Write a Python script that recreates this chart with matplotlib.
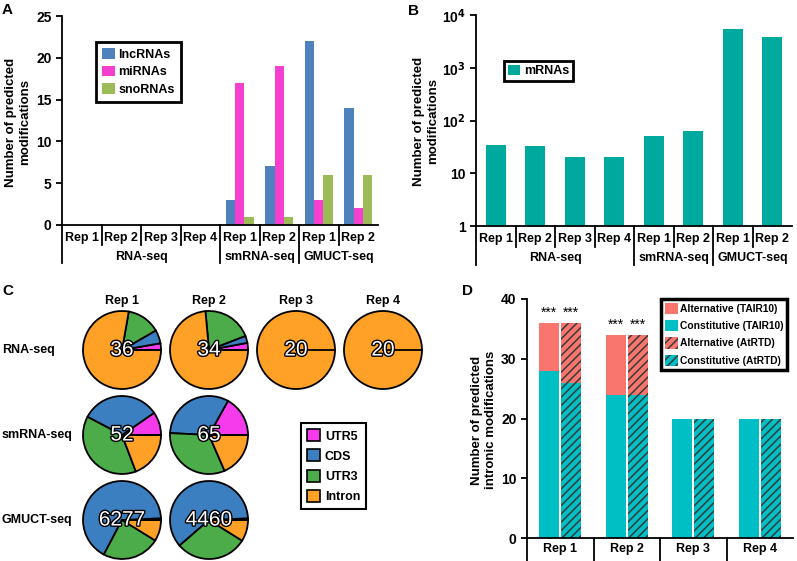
import matplotlib
matplotlib.use('Agg')
import matplotlib.pyplot as plt
import matplotlib.patheffects as pe
from matplotlib.patches import Patch
from matplotlib.ticker import FixedLocator, FixedFormatter, NullLocator
import numpy as np

plt.rcParams['font.family'] = ['Liberation Sans', 'DejaVu Sans']
plt.rcParams['font.weight'] = 'bold'
plt.rcParams['font.size'] = 9
plt.rcParams['hatch.linewidth'] = 1.1

# ---- data ----
reps8 = ['Rep 1', 'Rep 2', 'Rep 3', 'Rep 4', 'Rep 1', 'Rep 2', 'Rep 1', 'Rep 2']
groups = ['RNA-seq', 'smRNA-seq', 'GMUCT-seq']
group_sizes = [4, 2, 2]

lncRNAs = [0, 0, 0, 0, 3, 7, 22, 14]
miRNAs = [0, 0, 0, 0, 17, 19, 3, 2]
snoRNAs = [0, 0, 0, 0, 1, 1, 6, 6]
mRNAs = [35, 33, 20, 20, 50, 62, 5350, 3830]

pie_rows = ['RNA-seq', 'smRNA-seq', 'GMUCT-seq']
pie_cols = ['Rep 1', 'Rep 2', 'Rep 3', 'Rep 4']
regions = ['UTR5', 'CDS', 'UTR3', 'Intron']
# counts per region (UTR5, CDS, UTR3, Intron)
rna_seq_pies = [[1, 2, 5, 28], [1, 1, 7, 25], [0, 0, 0, 20], [0, 0, 0, 20]]
smrna_seq_pies = [[5, 17, 20, 10], [11, 21, 21, 12]]
gmuct_seq_pies = [[45, 4180, 1500, 552], [31, 2707, 1326, 396]]
pie_totals = [[36, 34, 20, 20], [52, 65], [6277, 4460]]

intron_reps = ['Rep 1', 'Rep 2', 'Rep 3', 'Rep 4']
const_tair = [28, 24, 20, 20]
alt_tair = [8, 10, 0, 0]
const_atrtd = [26, 24, 20, 20]
alt_atrtd = [10, 10, 0, 0]
stars = ['***', '***', '', '']

# colours
c_lnc, c_mi, c_sno = '#4F81BD', '#F53FCF', '#9BBB59'
c_mrna = '#00A99D'
pie_colors = ['#F53BEB', '#3C7FC0', '#4DAC4A', '#FFA126']
c_alt, c_const = '#F8766D', '#00BFC4'

W, H = 797, 561
fig = plt.figure(figsize=(7.97, 5.61), dpi=100)


def box(l, t, r, b):
    return [l / W, 1 - b / H, (r - l) / W, (b - t) / H]


def style_axis(ax):
    for s in ['top', 'right']:
        ax.spines[s].set_visible(False)
    for s in ['left', 'bottom']:
        ax.spines[s].set_linewidth(1.3)
    ax.tick_params(axis='y', direction='out', length=4, width=1.3, labelsize=10)
    ax.tick_params(axis='x', length=0, labelbottom=False)


def cat_table(ax, ax_h, labels, grp, sizes, rep_y, grp_y, short_len, long_len):
    tr = ax.get_xaxis_transform()
    starts = np.concatenate([[0], np.cumsum(sizes)[:-1]])
    for i in range(len(labels)):
        L = long_len if i in starts else short_len
        ax.plot([i - 0.5, i - 0.5], [0, -L / ax_h], color='black', lw=1.3,
                transform=tr, clip_on=False)
        ax.text(i, -rep_y / ax_h, labels[i], transform=tr, ha='center', va='center',
                fontsize=9)
    if grp is not None:
        for g, s0, n in zip(grp, starts, sizes):
            ax.text(s0 + (n - 1) / 2, -grp_y / ax_h, g, transform=tr, ha='center',
                    va='center', fontsize=9)


# ---- panel A ----
axA = fig.add_axes(box(62, 16, 378, 225))
x = np.arange(len(reps8))
w = 0.233
axA.bar(x - w, lncRNAs, w, color=c_lnc, label='lncRNAs')
axA.bar(x, miRNAs, w, color=c_mi, label='miRNAs')
axA.bar(x + w, snoRNAs, w, color=c_sno, label='snoRNAs')
axA.set_xlim(-0.5, len(reps8) - 0.5)
axA.set_ylim(0, 25)
axA.set_yticks([0, 5, 10, 15, 20, 25])
style_axis(axA)
cat_table(axA, 209, reps8, groups, group_sizes, 13, 32, 20, 38)
legA = axA.legend(loc='upper left', bbox_to_anchor=(96 / W, 1 - 42 / H),
                  bbox_transform=fig.transFigure, fancybox=False, framealpha=1,
                  edgecolor='black', borderaxespad=0, handlelength=1.0,
                  handleheight=0.9, handletextpad=0.3, labelspacing=0.4,
                  borderpad=0.5, fontsize=9)
legA.get_frame().set_linewidth(2)
fig.text(18 / W, 1 - 122 / H, 'Number of predicted\nmodifications', rotation=90,
         ha='center', va='center', multialignment='center', fontsize=9.5)

# ---- panel B ----
axB = fig.add_axes(box(476, 15, 792, 226))
axB.bar(x, mRNAs, 0.5, color=c_mrna, label='mRNAs')
axB.set_yscale('log')
axB.set_xlim(-0.5, len(reps8) - 0.5)
axB.set_ylim(1, 1e4)
axB.yaxis.set_major_locator(FixedLocator([1, 10, 100, 1000, 10000]))
axB.yaxis.set_major_formatter(FixedFormatter(['1', '10', r'10$^\mathbf{2}$',
                                              r'10$^\mathbf{3}$', r'10$^\mathbf{4}$']))
axB.yaxis.set_minor_locator(NullLocator())
style_axis(axB)
cat_table(axB, 211, reps8, groups, group_sizes, 13, 32, 21, 39)
legB = axB.legend(loc='upper left', bbox_to_anchor=(504 / W, 1 - 61 / H),
                  bbox_transform=fig.transFigure, fancybox=False, framealpha=1,
                  edgecolor='black', borderaxespad=0, handlelength=1.0,
                  handleheight=0.9, handletextpad=0.3, borderpad=0.3, fontsize=9)
legB.get_frame().set_linewidth(2)
fig.text(426 / W, 1 - 121 / H, 'Number of predicted\nmodifications', rotation=90,
         ha='center', va='center', multialignment='center', fontsize=9.5)

# ---- panel C ----
axC = fig.add_axes(box(0, 280, 440, 561))
axC.axis('off')
col_x = [122, 209, 296, 383]
row_y = [561 - 350, 561 - 435, 561 - 520]
pie_r = 39
pie_data = [rna_seq_pies, smrna_seq_pies, gmuct_seq_pies]
for r, (row, tot) in enumerate(zip(pie_data, pie_totals)):
    for c, counts in enumerate(row):
        cx, cy = col_x[c], row_y[r]
        axC.pie(counts, colors=pie_colors, startangle=0, radius=pie_r,
                center=(cx, cy), wedgeprops=dict(edgecolor='black', linewidth=1.3))
        # wedge boundary at 0 degrees (also shown where the first wedges are empty)
        axC.plot([cx, cx + pie_r], [cy, cy], color='black', lw=1.3)
        axC.text(cx, cy, str(tot[c]), ha='center', va='center',
                 fontsize=15, fontweight='normal', color='white',
                 path_effects=[pe.withStroke(linewidth=2, foreground='black')])
axC.set_xlim(0, 440)
axC.set_ylim(0, 281)
axC.set_aspect('equal')
for c, name in enumerate(pie_cols):
    fig.text(col_x[c] / W, 1 - 301 / H, name, ha='center', va='center', fontsize=9)
for r, name in enumerate(pie_rows):
    fig.text(2 / W, row_y[r] / H, name, ha='left', va='center', fontsize=9)
handlesC = [Patch(facecolor=col, edgecolor='black', linewidth=1.2, label=lab)
            for col, lab in zip(pie_colors, regions)]
legC = axC.legend(handles=handlesC, loc='upper left',
                  bbox_to_anchor=(301 / W, 1 - 423 / H), bbox_transform=fig.transFigure,
                  fancybox=False, framealpha=1, edgecolor='black', borderaxespad=0,
                  handlelength=1.0, handleheight=1.1, handletextpad=0.4,
                  labelspacing=0.55, borderpad=0.5, fontsize=9)
legC.get_frame().set_linewidth(1.5)

# ---- panel D ----
axD = fig.add_axes(box(527, 299, 793, 538))
xd = np.arange(len(intron_reps))
off, bw = 0.165, 0.3
axD.bar(xd - off, const_tair, bw, color=c_const, linewidth=0)
axD.bar(xd - off, alt_tair, bw, bottom=const_tair, color=c_alt, linewidth=0)
axD.bar(xd + off, const_atrtd, bw, color=c_const, edgecolor='#3a3a3a', hatch='////',
        linewidth=0)
axD.bar(xd + off, alt_atrtd, bw, bottom=const_atrtd, color=c_alt, edgecolor='#3a3a3a',
        hatch='////', linewidth=0)
for i in range(len(intron_reps)):
    if stars[i]:
        axD.text(xd[i] - off, const_tair[i] + alt_tair[i] + 0.5, stars[i],
                 ha='center', va='bottom', fontsize=10, fontweight='normal')
        axD.text(xd[i] + off, const_atrtd[i] + alt_atrtd[i] + 0.5, stars[i],
                 ha='center', va='bottom', fontsize=10, fontweight='normal')
axD.set_xlim(-0.5, len(intron_reps) - 0.5)
axD.set_ylim(0, 40)
axD.set_yticks([0, 10, 20, 30, 40])
style_axis(axD)
cat_table(axD, 239, intron_reps, None, [4], 11, 0, 30, 30)
handlesD = [Patch(facecolor=c_alt, linewidth=0, label='Alternative (TAIR10)'),
            Patch(facecolor=c_const, linewidth=0, label='Constitutive (TAIR10)'),
            Patch(facecolor=c_alt, edgecolor='#3a3a3a', hatch='////', linewidth=0,
                  label='Alternative (AtRTD)'),
            Patch(facecolor=c_const, edgecolor='#3a3a3a', hatch='////', linewidth=0,
                  label='Constitutive (AtRTD)')]
legD = axD.legend(handles=handlesD, loc='upper left',
                  bbox_to_anchor=(661 / W, 1 - 299 / H), bbox_transform=fig.transFigure,
                  fancybox=False, framealpha=1, edgecolor='black', borderaxespad=0,
                  handlelength=1.3, handleheight=1.3, handletextpad=0.2,
                  labelspacing=0.6, borderpad=0.35, fontsize=7.4)
legD.get_frame().set_linewidth(2.5)
fig.text(484 / W, 1 - 420 / H, 'Number of predicted\nintronic modifications',
         rotation=90, ha='center', va='center', multialignment='center', fontsize=9.5)

# panel letters
for lab, px, py in [('A', 2, 3), ('B', 408, 4), ('C', 2, 284), ('D', 462, 284)]:
    fig.text(px / W, 1 - py / H, lab, ha='left', va='top', fontsize=11)

fig.savefig('out.png', dpi=100)
